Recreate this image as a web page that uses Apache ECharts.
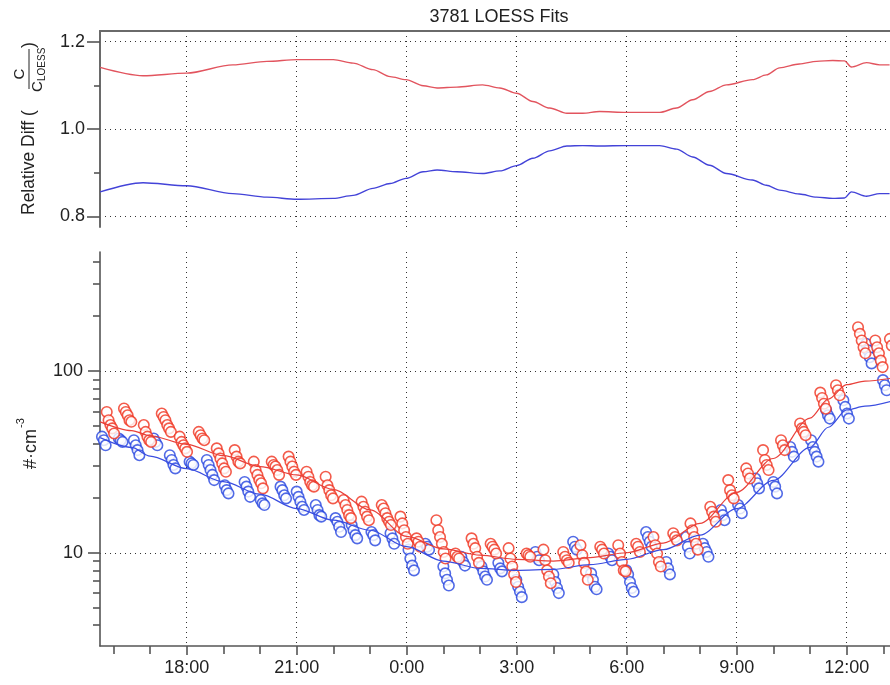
<!DOCTYPE html>
<html>
<head>
<meta charset="utf-8">
<title>3781 LOESS Fits</title>
<script src="https://cdn.jsdelivr.net/npm/echarts@6.0.0/dist/echarts.min.js"></script>
<style>
  html, body { margin: 0; padding: 0; background: #fff; }
  #chart { width: 890px; height: 685px; }
</style>
</head>
<body>
<div id="chart"></div>
<script>
// time is in hours from midnight of the first day (24 = 0:00 next day, 36 = 12:00)
const majorHours = [18, 21, 24, 27, 30, 33, 36];
const minorHours = [16, 17, 19, 20, 22, 23, 25, 26, 28, 29, 31, 32, 34, 35, 37];
const ratioTicks = [0.8, 1.0, 1.2];
const ratioMinorTicks = [0.9, 1.1];
const countMajorTicks = [10, 100];
const countMinorTicks = [4, 5, 6, 7, 8, 9, 20, 30, 40, 50, 60, 70, 80, 90, 200, 300, 400];

// top panel: C / C_LOESS
const ratioTimes = [15.64, 16.81, 18.00, 19.26, 20.19, 21.01, 22.00, 22.54, 23.08, 23.55,
  23.98, 24.45, 24.83, 25.37, 26.07, 26.54, 27.00, 27.44, 27.90, 28.37,
  28.80, 29.26, 29.99, 30.90, 31.36, 31.80, 32.26, 32.72, 33.43, 33.81,
  34.17, 34.71, 35.18, 35.62, 35.94, 36.13, 36.54, 36.90, 37.17];
const ratioRed = [1.141, 1.122, 1.128, 1.147, 1.155, 1.159, 1.159, 1.151, 1.136, 1.120,
  1.113, 1.099, 1.094, 1.096, 1.101, 1.094, 1.082, 1.063, 1.048, 1.036,
  1.036, 1.040, 1.038, 1.038, 1.048, 1.067, 1.086, 1.101, 1.113, 1.124,
  1.140, 1.149, 1.155, 1.157, 1.156, 1.142, 1.152, 1.147, 1.147];
const ratioBlue = [0.856, 0.877, 0.870, 0.852, 0.844, 0.839, 0.841, 0.848, 0.864, 0.875,
  0.887, 0.902, 0.906, 0.902, 0.898, 0.904, 0.916, 0.933, 0.950, 0.961,
  0.962, 0.961, 0.962, 0.962, 0.954, 0.936, 0.917, 0.898, 0.883, 0.871,
  0.860, 0.851, 0.844, 0.841, 0.842, 0.856, 0.846, 0.852, 0.852];

// bottom panel: LOESS fits (#/cm3)
const fitTimes = [15.64, 16.5, 17, 18, 19, 20, 21, 22, 23, 24, 25, 26, 27, 28, 29,
  30, 31, 32, 33, 34, 35, 35.5, 36, 36.5, 37.2];
const fitRed = [52.5, 47, 44, 39.5, 34.2, 29.8, 26.8, 22.3, 17.2, 12.3, 10.5, 9.7, 9.2, 9.0, 9.4,
  10.0, 11.3, 14.5, 21.5, 33, 55, 70, 84, 88, 91];
const fitBlue = [43, 38, 34, 29, 24.6, 21, 17.5, 15.1, 13.3, 10.8, 9.0, 8.2, 8.0, 8.1, 8.6,
  9.2, 10.4, 12.5, 17.5, 25, 38, 49, 61, 64, 68];

// measurement bursts: start time of each burst and its successive readings
const SAMPLE_STEP = 3 / 60; // 3 min between readings inside a burst
const redStarts = [15.82, 16.29, 16.83, 17.32, 17.81, 18.33, 18.82, 19.31, 19.83, 20.32,
  20.78, 21.27, 21.79, 22.28, 22.77, 23.32, 23.83, 24.27, 24.81, 25.33,
  25.77, 26.29, 26.78, 27.27, 27.73, 28.27, 28.74, 29.28, 29.77, 30.26,
  30.73, 31.27, 31.74, 32.28, 32.77, 33.26, 33.72, 34.21, 34.73, 35.28,
  35.71, 36.31, 36.78, 37.18];
const redBursts = [
  [59.5, 53.6, 50.4, 48.3, 45.3], [62.2, 59.5, 57.0, 53.6, 52.5], [50.4, 46.2, 43.5, 41.6, 40.7],
  [58.3, 55.8, 53.6, 50.4, 48.3, 46.2], [43.5, 40.7, 39.0, 37.5, 35.9], [46.2, 44.3, 42.5, 41.6],
  [37.5, 35.2, 33.0, 31.0, 29.1, 27.9], [36.7, 33.8, 31.7, 31.0], [31.7, 28.5, 26.8, 25.1, 24.1, 22.6],
  [31.7, 30.4, 29.8, 28.5, 26.8], [33.8, 31.7, 29.8, 27.9, 26.8], [27.9, 26.2, 24.5, 23.5, 23.1],
  [26.2, 23.5, 22.1, 20.7, 19.9], [19.5, 18.3, 17.2, 16.1, 15.5], [19.1, 17.9, 16.8, 15.8, 15.1],
  [18.3, 17.5, 16.5, 15.5, 14.8, 14.2], [15.8, 14.5, 13.3, 12.2, 11.2], [12.0, 11.5, 10.8],
  [15.1, 13.3, 12.2, 11.2, 10.1, 9.3], [9.9, 9.5, 9.3], [12.0, 11.2, 10.6, 9.5, 8.8],
  [11.2, 10.8, 10.4, 9.9], [10.6, 9.3, 8.4, 7.6, 6.9], [9.9, 9.7, 9.5],
  [10.4, 9.1, 8.0, 7.4, 6.8], [10.1, 9.5, 9.1, 8.8], [11.0, 9.7, 8.8, 7.9, 7.1],
  [10.8, 10.4, 9.9], [11.0, 9.9, 8.9, 8.0, 7.9], [11.2, 10.8, 10.1],
  [12.2, 11.0, 9.9, 8.9, 8.4], [12.8, 12.2, 11.7], [14.5, 13.3, 12.2, 11.2, 10.4],
  [17.9, 16.8, 15.8, 14.8], [25.1, 22.1, 20.7, 19.9], [29.1, 27.3, 25.6],
  [36.7, 32.4, 30.4, 28.5], [41.6, 39.0, 36.7], [51.4, 48.3, 46.2, 44.3],
  [76.0, 71.0, 66.0, 62.0], [83.5, 78.3, 73.5], [174, 160, 147, 135, 125],
  [147, 135, 125, 114, 105], [150, 138]
];
const blueStarts = [15.69, 16.15, 16.56, 17.10, 17.54, 18.08, 18.55, 19.04, 19.58, 20.02,
  20.56, 21.00, 21.52, 22.06, 22.50, 23.04, 23.56, 24.05, 24.51, 25.00,
  25.49, 26.04, 26.50, 26.99, 27.51, 28.00, 28.54, 29.03, 29.50, 29.99,
  30.53, 31.08, 31.62, 32.08, 32.57, 33.04, 33.51, 34.00, 34.46, 35.03,
  35.44, 35.91, 36.53, 36.99];
const blueBursts = [
  [43.5, 41.6, 39.0], [42.5, 41.6, 40.7], [41.6, 39.0, 36.7, 34.4],
  [42.5, 40.7, 39.0], [34.4, 32.4, 30.4, 29.1], [31.7, 31.0, 30.4],
  [32.4, 30.4, 28.5, 26.8, 25.1], [23.5, 22.1, 21.2], [24.5, 23.1, 21.7, 20.3],
  [19.5, 18.7, 18.3], [23.1, 22.1, 20.7, 19.9], [21.7, 20.3, 19.1, 17.9, 17.2],
  [18.3, 17.2, 16.1, 15.8], [15.5, 14.8, 13.9, 13.0], [14.2, 13.3, 12.5, 12.0],
  [13.0, 12.5, 11.7], [12.8, 12.0, 11.2], [10.4, 9.3, 8.5, 8.0],
  [11.2, 10.8, 10.4], [8.4, 7.7, 7.1, 6.6], [9.5, 8.9, 8.5],
  [8.4, 7.9, 7.4, 7.1], [8.8, 8.2, 7.9], [7.1, 6.5, 6.1, 5.7],
  [10.1, 9.5, 9.1], [7.6, 6.9, 6.4, 6.0], [11.5, 10.8, 10.4],
  [7.7, 7.1, 6.5, 6.3], [9.9, 9.5, 9.1], [8.0, 7.6, 6.9, 6.4, 6.1],
  [13.0, 12.2, 11.5, 10.8], [8.9, 8.2, 7.6], [12.2, 10.8, 9.9],
  [11.2, 10.6, 10.1, 9.5], [17.2, 16.1, 15.1], [18.3, 17.5, 16.5],
  [25.6, 24.1, 22.6], [24.5, 23.1, 21.2], [38.2, 35.9, 33.8],
  [41.6, 38.2, 35.9, 33.8, 31.7], [60.9, 57.1, 54.7], [69.0, 63.4, 58.3, 54.7],
  [141, 130, 119, 110], [89.0, 83.5, 78.3]
];

const FONT = '"Liberation Sans", Arial, Helvetica, sans-serif';
const TEXT = '#222';
const AXIS = '#555';
const T_MIN = 15.636, T_MAX = 38;
const R_MIN = 0.7755, R_MAX = 1.2245;
const C_MIN = 3.07, C_MAX = 451;

function pairs(xs, ys) {
  return xs.map((x, i) => [x, ys[i]]);
}
function burstPoints(starts, bursts) {
  const pts = [];
  starts.forEach((t0, k) => {
    bursts[k].forEach((v, i) => pts.push([t0 + i * SAMPLE_STEP, v]));
  });
  return pts;
}

const dotted = { show: true, lineStyle: { color: '#333', width: 1, type: [1, 4] } };
const axisLine = { show: true, onZero: false, lineStyle: { color: AXIS, width: 1.6 } };
const labelBase = { fontFamily: FONT, fontSize: 18, color: TEXT };
const hourLabel = v => (Math.round(v) % 24) + ':00';

const chart = echarts.init(document.getElementById('chart'), null, { renderer: 'canvas' });

chart.setOption({
  animation: false,
  backgroundColor: '#fff',
  grid: [
    // the plot runs past the right edge of the picture, so no bounds clamping
    { left: 100, top: 31, width: 820, height: 196, outerBoundsMode: 'none', containLabel: false },
    { left: 100, top: 252, width: 820, height: 394, outerBoundsMode: 'none', containLabel: false }
  ],
  xAxis: [
    { // top panel: vertical grid lines only
      gridIndex: 0, type: 'value', position: 'bottom', min: T_MIN, max: T_MAX,
      axisLine: { show: false },
      axisTick: { show: false, customValues: majorHours },
      axisLabel: { show: false, customValues: majorHours },
      splitLine: dotted
    },
    { // top panel frame
      gridIndex: 0, type: 'value', position: 'top', min: T_MIN, max: T_MAX,
      axisLine: { show: true, onZero: false, lineStyle: { color: '#6a6a6a', width: 2.2 } },
      axisTick: { show: false }, axisLabel: { show: false }, splitLine: { show: false }
    },
    { // bottom panel time axis
      gridIndex: 1, type: 'value', position: 'bottom', min: T_MIN, max: T_MAX,
      axisLine: axisLine,
      axisTick: { show: true, customValues: majorHours, length: 9, lineStyle: { color: AXIS, width: 1.6 } },
      axisLabel: Object.assign({ customValues: majorHours, formatter: hourLabel, margin: 13 }, labelBase),
      splitLine: dotted
    },
    { // hourly minor ticks
      gridIndex: 1, type: 'value', position: 'bottom', min: T_MIN, max: T_MAX,
      axisLine: { show: false },
      axisTick: { show: true, customValues: minorHours, length: 8, lineStyle: { color: AXIS, width: 1.6 } },
      axisLabel: { show: false }, splitLine: { show: false }
    }
  ],
  yAxis: [
    {
      gridIndex: 0, type: 'value', position: 'left', min: R_MIN, max: R_MAX,
      axisLine: { show: true, onZero: false, lineStyle: { color: '#6a6a6a', width: 2 } },
      axisTick: { show: true, customValues: ratioTicks, length: 13, lineStyle: { color: AXIS, width: 1.6 } },
      axisLabel: Object.assign({ customValues: ratioTicks, formatter: v => v.toFixed(1), margin: 15 }, labelBase),
      splitLine: dotted
    },
    {
      gridIndex: 0, type: 'value', position: 'left', min: R_MIN, max: R_MAX,
      axisLine: { show: false },
      axisTick: { show: true, customValues: ratioMinorTicks, length: 6, lineStyle: { color: AXIS, width: 1.6 } },
      axisLabel: { show: false }, splitLine: { show: false }
    },
    { // number concentration, log scale
      gridIndex: 1, type: 'log', logBase: 10, position: 'left', min: C_MIN, max: C_MAX,
      axisLine: axisLine,
      axisTick: { show: false },
      axisLabel: Object.assign({ showMinLabel: false, showMaxLabel: false, margin: 17,
        formatter: v => String(Math.round(v)) }, labelBase),
      splitLine: Object.assign({ showMinLine: false, showMaxLine: false }, dotted)
    },
    { // decade ticks (log10 units)
      gridIndex: 1, type: 'value', position: 'left', min: Math.log10(C_MIN), max: Math.log10(C_MAX),
      axisLine: { show: false },
      axisTick: { show: true, customValues: countMajorTicks.map(Math.log10), length: 12, lineStyle: { color: AXIS, width: 1.6 } },
      axisLabel: { show: false }, splitLine: { show: false }
    },
    { // minor log ticks
      gridIndex: 1, type: 'value', position: 'left', min: Math.log10(C_MIN), max: Math.log10(C_MAX),
      axisLine: { show: false },
      axisTick: { show: true, customValues: countMinorTicks.map(Math.log10), length: 7, lineStyle: { color: AXIS, width: 1.6 } },
      axisLabel: { show: false }, splitLine: { show: false }
    }
  ],
  series: [
    {
      name: 'ratio red', type: 'line', xAxisIndex: 0, yAxisIndex: 0,
      data: pairs(ratioTimes, ratioRed), showSymbol: false, smooth: 0.3, smoothMonotone: 'x',
      lineStyle: { color: '#e2545e', width: 1.4 }
    },
    {
      name: 'ratio blue', type: 'line', xAxisIndex: 0, yAxisIndex: 0,
      data: pairs(ratioTimes, ratioBlue), showSymbol: false, smooth: 0.3, smoothMonotone: 'x',
      lineStyle: { color: '#4343d8', width: 1.4 }
    },
    {
      name: 'blue data', type: 'scatter', xAxisIndex: 2, yAxisIndex: 2,
      data: burstPoints(blueStarts, blueBursts), symbol: 'circle', symbolSize: 10.5,
      itemStyle: { color: '#fff', borderColor: '#2645e0', borderWidth: 1.6 }
    },
    {
      name: 'red data', type: 'scatter', xAxisIndex: 2, yAxisIndex: 2,
      data: burstPoints(redStarts, redBursts), symbol: 'circle', symbolSize: 10.5,
      itemStyle: { color: '#fff', borderColor: '#f0321e', borderWidth: 1.6 }
    },
    {
      name: 'red fit', type: 'line', xAxisIndex: 2, yAxisIndex: 2,
      data: pairs(fitTimes, fitRed), showSymbol: false, smooth: 0.3, smoothMonotone: 'x',
      lineStyle: { color: '#e8403a', width: 1.2 }
    },
    {
      name: 'blue fit', type: 'line', xAxisIndex: 2, yAxisIndex: 2,
      data: pairs(fitTimes, fitBlue), showSymbol: false, smooth: 0.3, smoothMonotone: 'x',
      lineStyle: { color: '#3a4de0', width: 1.2 }
    }
  ],
  graphic: [
    {
      type: 'text', x: 499, y: 17,
      style: { text: '3781 LOESS Fits', font: '18px ' + FONT, fill: TEXT, align: 'center', verticalAlign: 'middle' }
    },
    { // "Relative Diff (C / C_LOESS)" rotated, baseline runs upward from y=215
      type: 'group', x: 29, y: 215, rotation: Math.PI / 2,
      children: [
        { type: 'text', x: 0, y: 0,
          style: { text: 'Relative Diff (', font: '17.5px ' + FONT, fill: TEXT, align: 'left', verticalAlign: 'middle' } },
        { type: 'text', x: 141, y: -9,
          style: { text: 'C', font: '15px ' + FONT, fill: TEXT, align: 'center', verticalAlign: 'middle' } },
        { type: 'line', shape: { x1: 126, y1: 0, x2: 166, y2: 0 }, style: { stroke: TEXT, lineWidth: 1 } },
        { type: 'text', x: 123, y: 9,
          style: { text: 'C', font: '15px ' + FONT, fill: TEXT, align: 'left', verticalAlign: 'middle' } },
        { type: 'text', x: 134, y: 13,
          style: { text: 'LOESS', font: '10px ' + FONT, fill: TEXT, align: 'left', verticalAlign: 'middle' } },
        { type: 'text', x: 167, y: 0,
          style: { text: ')', font: '17.5px ' + FONT, fill: TEXT, align: 'left', verticalAlign: 'middle' } }
      ]
    },
    {
      type: 'text', x: 31.5, y: 449, rotation: Math.PI / 2,
      style: { text: '#·cm', font: '18px ' + FONT, fill: TEXT, align: 'center', verticalAlign: 'middle' }
    },
    {
      type: 'text', x: 21, y: 423, rotation: Math.PI / 2,
      style: { text: '-3', font: '11px ' + FONT, fill: TEXT, align: 'center', verticalAlign: 'middle' }
    }
  ]
});
</script>
</body>
</html>
